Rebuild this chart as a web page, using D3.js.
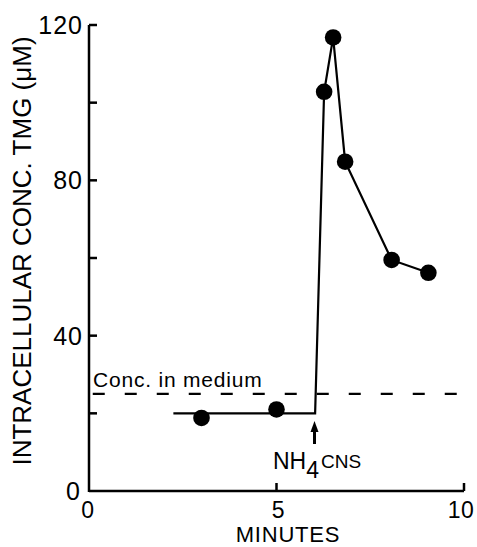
<!DOCTYPE html>
<html>
<head>
<meta charset="utf-8">
<script src="https://cdn.jsdelivr.net/npm/d3@7"></script>
<style>
  html, body { margin: 0; padding: 0; background: #fff; }
  svg { display: block; }
  text { font-family: "Liberation Sans", Arial, Helvetica, sans-serif; fill: #000; }
</style>
</head>
<body>
<script>
// ---- data ----
const lineMinutes = [2.25, 6.03, 6.27, 6.51, 6.83, 8.07, 9.05];
const lineConc    = [20, 20, 102.8, 116.8, 84.8, 59.5, 56.2];
const pointMinutes = [3.0, 5.0, 6.27, 6.51, 6.83, 8.07, 9.05];
const pointConc    = [18.8, 21.0, 102.8, 116.8, 84.8, 59.5, 56.2];
const mediumConc = [25];
const mediumRange = [0.1, 10];
const xTicks = [0, 5, 10];
const xTickLabels = ["0", "5", "10"];
const yTicks = [0, 20, 40, 60, 80, 100, 120];
const yTickLabels = ["0", "", "40", "", "80", "", "120"];
const additionTime = [6.0];

const W = 477, H = 547;
const svg = d3.select("body").append("svg").attr("width", W).attr("height", H);

const x = d3.scaleLinear().domain([0, 10]).range([89, 464]);
const y = d3.scaleLinear().domain([0, 120]).range([491, 25]);

// axes lines
const axisG = svg.append("g").attr("stroke", "#000").attr("stroke-width", 2.5).attr("fill", "none");
axisG.append("line").attr("x1", x(0)).attr("x2", x(0)).attr("y1", y(0) + 1).attr("y2", y(120));
axisG.append("line").attr("x1", x(0)).attr("x2", x(10)).attr("y1", y(0)).attr("y2", y(0));
// y ticks (inward)
axisG.selectAll(".yt").data(yTicks.filter(d => d > 0)).enter().append("line")
  .attr("x1", x(0)).attr("x2", x(0) + 8).attr("y1", d => y(d)).attr("y2", d => y(d));
// x ticks (inward)
axisG.selectAll(".xt").data(xTicks.filter(d => d > 0)).enter().append("line")
  .attr("x1", d => x(d)).attr("x2", d => x(d)).attr("y1", y(0)).attr("y2", y(0) - 8);

// tick labels
svg.selectAll(".ylab").data(yTicks).enter().append("text")
  .attr("x", (d) => d === 0 ? 81 : 83)
  .attr("y", d => y(d) + 9)
  .attr("text-anchor", "end")
  .attr("font-size", 25)
  .attr("letter-spacing", 1)
  .text((d, i) => yTickLabels[i]);

svg.selectAll(".xlab").data(xTicks).enter().append("text")
  .attr("x", (d, i) => x(d) + (i === 0 ? -1 : (i === 2 ? -3 : 2)))
  .attr("y", 518)
  .attr("text-anchor", "middle")
  .attr("font-size", 23)
  .attr("letter-spacing", 0.5)
  .text((d, i) => xTickLabels[i]);

// axis titles
svg.append("text")
  .attr("transform", `translate(31, 251) rotate(-90)`)
  .attr("text-anchor", "middle")
  .attr("font-size", 26)
  .text("INTRACELLULAR  CONC. TMG (\u03bcM)");

svg.append("text")
  .attr("x", 288).attr("y", 542)
  .attr("text-anchor", "middle")
  .attr("font-size", 22)
  .attr("letter-spacing", 0.8)
  .text("MINUTES");

// dashed medium concentration
svg.selectAll(".med").data(mediumConc).enter().append("line")
  .attr("x1", x(mediumRange[0])).attr("x2", x(mediumRange[1]))
  .attr("y1", d => y(d)).attr("y2", d => y(d))
  .attr("stroke", "#000").attr("stroke-width", 2.2)
  .attr("stroke-dasharray", "12,20");

svg.append("text")
  .attr("x", 93).attr("y", 387)
  .attr("font-size", 21)
  .attr("letter-spacing", 0.8)
  .text("Conc. in medium");

// data line
const pts = lineMinutes.map((m, i) => [m, lineConc[i]]);
svg.append("path")
  .attr("d", d3.line().x(d => x(d[0])).y(d => y(d[1]))(pts))
  .attr("fill", "none").attr("stroke", "#000").attr("stroke-width", 2.2);

// points
svg.selectAll(".pt").data(pointMinutes).enter().append("circle")
  .attr("cx", d => x(d))
  .attr("cy", (d, i) => y(pointConc[i]))
  .attr("r", 8.3)
  .attr("fill", "#000");

// arrow for NH4CNS addition
const ax = x(additionTime[0]) + 0.5;
svg.append("line").attr("x1", ax).attr("x2", ax).attr("y1", 444).attr("y2", 430)
  .attr("stroke", "#000").attr("stroke-width", 3);
svg.append("path")
  .attr("d", `M${ax - 4},${432} L${ax},${421} L${ax + 4},${432} Z`)
  .attr("fill", "#000");

const lab = svg.append("text").attr("x", 273).attr("y", 469);
lab.append("tspan").attr("font-size", 23).text("NH");
lab.append("tspan").attr("font-size", 23).attr("dy", 9).text("4");
lab.append("tspan").attr("font-size", 19).attr("dy", -10).attr("dx", 2).text("CNS");
</script>
</body>
</html>
